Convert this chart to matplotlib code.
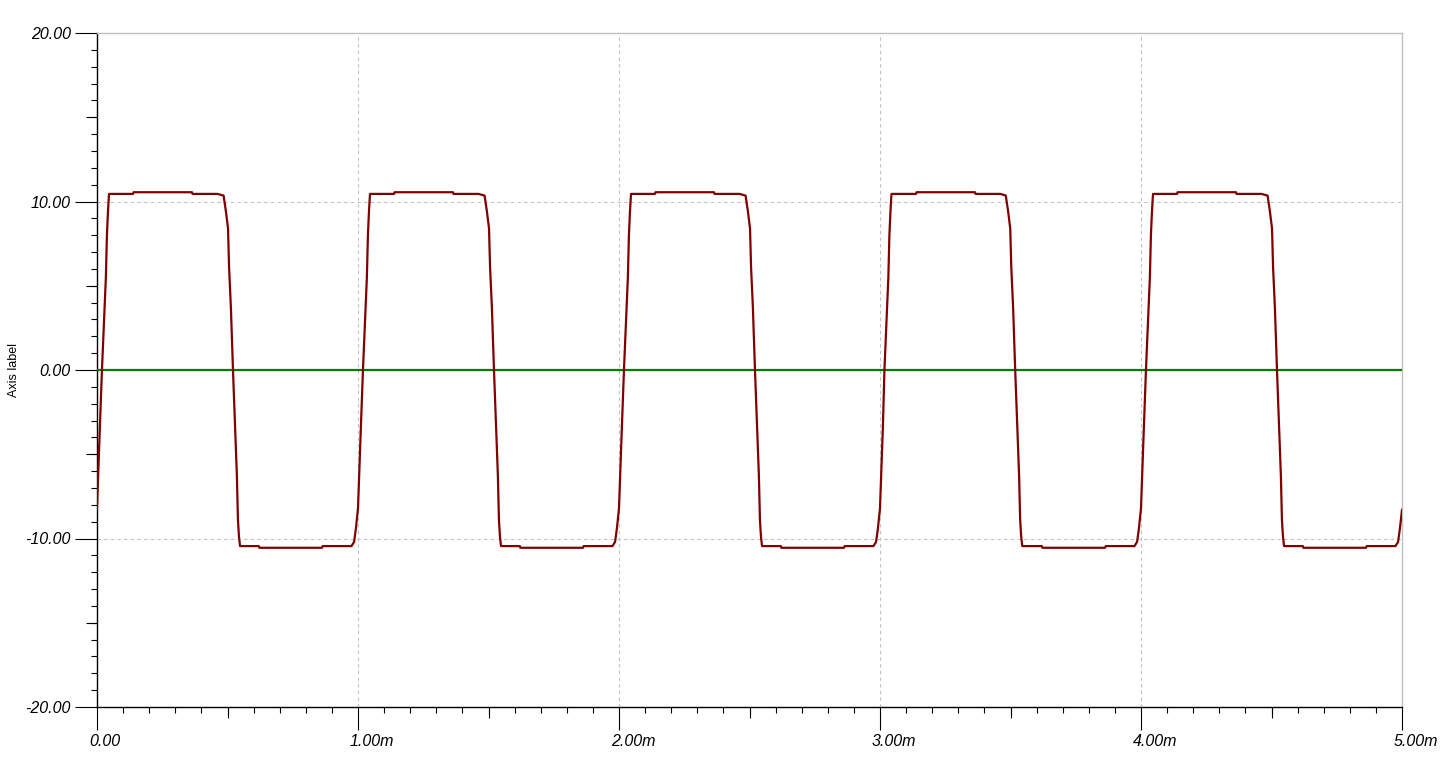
import matplotlib
matplotlib.use("Agg")
import matplotlib.pyplot as plt
from matplotlib.ticker import MultipleLocator, NullLocator
from matplotlib.transforms import ScaledTranslation, blended_transform_factory

plt.rcParams["font.family"] = ["Liberation Sans", "DejaVu Sans"]

# ---------------------------------------------------------------
# Data (time in ms, amplitude in V)
# ---------------------------------------------------------------
time_ms = [
    0.000, 0.004, 0.011, 0.019, 0.027, 0.034, 0.038, 0.042, 0.046, 0.138, 0.140, 0.364, 0.366, 0.462, 0.485, 0.490, 0.494,
    0.502, 0.506, 0.513, 0.521, 0.529, 0.536, 0.540, 0.544, 0.548, 0.620, 0.622, 0.862, 0.865, 0.975, 0.985, 0.992,
    1.000, 1.004, 1.011, 1.019, 1.027, 1.034, 1.038, 1.042, 1.046, 1.138, 1.140, 1.364, 1.366, 1.462, 1.485, 1.490, 1.494,
    1.502, 1.506, 1.513, 1.521, 1.529, 1.536, 1.540, 1.544, 1.548, 1.620, 1.622, 1.862, 1.865, 1.975, 1.985, 1.992,
    2.000, 2.004, 2.011, 2.019, 2.027, 2.034, 2.038, 2.042, 2.046, 2.138, 2.140, 2.364, 2.366, 2.462, 2.485, 2.490, 2.494,
    2.502, 2.506, 2.513, 2.521, 2.529, 2.536, 2.540, 2.544, 2.548, 2.620, 2.622, 2.862, 2.865, 2.975, 2.985, 2.992,
    3.000, 3.004, 3.011, 3.017, 3.025, 3.032, 3.036, 3.040, 3.044, 3.138, 3.140, 3.364, 3.366, 3.462, 3.482, 3.487, 3.491,
    3.499, 3.503, 3.510, 3.518, 3.526, 3.533, 3.537, 3.541, 3.545, 3.620, 3.622, 3.862, 3.865, 3.975, 3.985, 3.992,
    4.000, 4.004, 4.011, 4.019, 4.027, 4.034, 4.038, 4.042, 4.046, 4.138, 4.140, 4.364, 4.366, 4.462, 4.485, 4.490, 4.494,
    4.502, 4.506, 4.513, 4.521, 4.529, 4.536, 4.540, 4.544, 4.548, 4.620, 4.622, 4.862, 4.865, 4.975, 4.985, 4.992,
    5.000,
]
signal_v = [
    -8.2, -6.4, -3.4, 0.0, 3.0, 5.5, 8.0, 9.4, 10.45, 10.45, 10.55, 10.55, 10.45, 10.45, 10.35, 9.8, 9.4,
    8.4, 6.1, 3.7, 0.0, -3.4, -6.3, -8.9, -9.9, -10.45, -10.45, -10.55, -10.55, -10.45, -10.45, -10.2, -9.4,
    -8.2, -6.4, -3.4, 0.0, 3.0, 5.5, 8.0, 9.4, 10.45, 10.45, 10.55, 10.55, 10.45, 10.45, 10.35, 9.8, 9.4,
    8.4, 6.1, 3.7, 0.0, -3.4, -6.3, -8.9, -9.9, -10.45, -10.45, -10.55, -10.55, -10.45, -10.45, -10.2, -9.4,
    -8.2, -6.4, -3.4, 0.0, 3.0, 5.5, 8.0, 9.4, 10.45, 10.45, 10.55, 10.55, 10.45, 10.45, 10.35, 9.8, 9.4,
    8.4, 6.1, 3.7, 0.0, -3.4, -6.3, -8.9, -9.9, -10.45, -10.45, -10.55, -10.55, -10.45, -10.45, -10.2, -9.4,
    -8.2, -6.4, -3.4, 0.0, 3.0, 5.5, 8.0, 9.4, 10.45, 10.45, 10.55, 10.55, 10.45, 10.45, 10.35, 9.8, 9.4,
    8.4, 6.1, 3.7, 0.0, -3.4, -6.3, -8.9, -9.9, -10.45, -10.45, -10.55, -10.55, -10.45, -10.45, -10.2, -9.4,
    -8.2, -6.4, -3.4, 0.0, 3.0, 5.5, 8.0, 9.4, 10.45, 10.45, 10.55, 10.55, 10.45, 10.45, 10.35, 9.8, 9.4,
    8.4, 6.1, 3.7, 0.0, -3.4, -6.3, -8.9, -9.9, -10.45, -10.45, -10.55, -10.55, -10.45, -10.45, -10.2, -9.4,
    -8.3,
]
ref_time_ms = [0.0, 5.0]
ref_v = [0.0, 0.0]

x_major = [0, 1, 2, 3, 4, 5]
x_labels = ["0.00", "1.00m", "2.00m", "3.00m", "4.00m", "5.00m"]
x_mid = [0.5, 1.5, 2.5, 3.5, 4.5]
y_major = [-20, -10, 0, 10, 20]
y_labels = ["-20.00", "-10.00", "0.00", "10.00", "20.00"]
y_mid = [-15, -5, 5, 15]

# ---------------------------------------------------------------
# Figure
# ---------------------------------------------------------------
fig = plt.figure(figsize=(14.4, 7.62), dpi=100)
ax = fig.add_axes([97 / 1440, 1 - 707 / 762, 1305 / 1440, 674 / 762])

ax.plot(ref_time_ms, ref_v, color="#008000", lw=1.6, zorder=3)
ax.plot(time_ms, signal_v, color="#800000", lw=1.6, zorder=4)

ax.set_xlim(0, 5)
ax.set_ylim(-20, 20)

# grid
for x in x_major[1:-1]:
    ax.axvline(x, color="#c0c0c0", lw=0.8, ls=(0, (3, 3)), zorder=1)
for y in y_major[1:-1]:
    ax.axhline(y, color="#c0c0c0", lw=0.8, ls=(0, (3, 3)), zorder=1)

# spines
for side in ("top", "right"):
    ax.spines[side].set_color("#c0c0c0")
    ax.spines[side].set_linewidth(1.0)
for side in ("left", "bottom"):
    ax.spines[side].set_color("black")
    ax.spines[side].set_linewidth(1.0)

# y ticks
ax.set_yticks(y_major)
ax.set_yticklabels(y_labels, fontsize=11.5, fontstyle="italic")
ax.yaxis.set_minor_locator(MultipleLocator(1))
ax.tick_params(axis="y", which="major", direction="out", length=16, width=0.8, pad=3)
ax.tick_params(axis="y", which="minor", direction="out", length=4, width=0.8)

# x ticks (labels drawn left-aligned, as in the reference)
ax.set_xticks(x_major)
ax.set_xticklabels([])
ax.xaxis.set_minor_locator(MultipleLocator(0.1))
ax.tick_params(axis="x", which="major", direction="out", length=16.5, width=0.8)
ax.tick_params(axis="x", which="minor", direction="out", length=4, width=0.8)

trans = blended_transform_factory(ax.transData, ax.transAxes) + \
    ScaledTranslation(-8 / 100, -27 / 100, fig.dpi_scale_trans)
for x, lab in zip(x_major, x_labels):
    ax.text(x, 0, lab, transform=trans, ha="left", va="top",
            fontsize=11.5, fontstyle="italic", clip_on=False)

# intermediate-length ticks at the half steps
sec_y = ax.secondary_yaxis("left")
sec_y.spines["left"].set_visible(False)
sec_y.set_yticks(y_mid)
sec_y.set_yticklabels([])
sec_y.yaxis.set_minor_locator(NullLocator())
sec_y.tick_params(axis="y", length=8, width=0.8, direction="out")

sec_x = ax.secondary_xaxis("bottom")
sec_x.spines["bottom"].set_visible(False)
sec_x.set_xticks(x_mid)
sec_x.set_xticklabels([])
sec_x.xaxis.set_minor_locator(NullLocator())
sec_x.tick_params(axis="x", length=8, width=0.8, direction="out")

ax.set_ylabel("Axis label", fontsize=9)
ax.yaxis.set_label_coords(-(97 - 20) / 1305, 0.5)

fig.savefig("out.png", dpi=100)
